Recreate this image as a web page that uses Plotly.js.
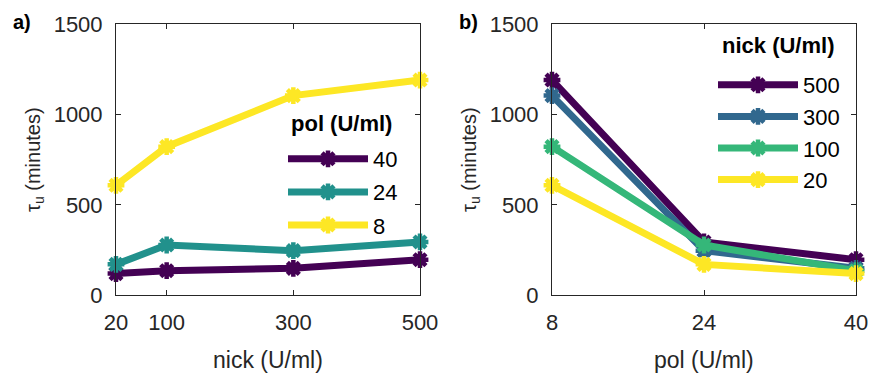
<!DOCTYPE html>
<html>
<head>
<meta charset="utf-8">
<script src="https://cdn.plot.ly/plotly-3.0.1.min.js"></script>
<style>html,body{margin:0;padding:0;background:#fff;}#chart{width:871px;height:374px;}</style>
</head>
<body>
<div id="chart"></div>
<script>
// Data
const nick = [20, 100, 300, 500];            // U/ml
const pol = [8, 24, 40];                     // U/ml
const tauPol40 = [120, 136, 149, 197];       // minutes, vs nick
const tauPol24 = [171, 278, 247, 295];
const tauPol8  = [608, 822, 1104, 1190];
const polLabels = ['40', '24', '8'];
const nickLabels = ['500', '300', '100', '20'];
const colA = ['#440154', '#21918c', '#fde725'];
const colB = ['#440154', '#31688e', '#35b779', '#fde725'];

const seriesA = [tauPol40, tauPol24, tauPol8];
// panel b: tau vs pol for each nick, built from the same table
function byNick(i) { return [tauPol8[i], tauPol24[i], tauPol40[i]]; }
const seriesB = [byNick(3), byNick(2), byNick(1), byNick(0)];

const font = 'Liberation Sans, Arial, Helvetica, sans-serif';
const mk = c => ({symbol: 'asterisk-open', size: 14, color: c, line: {color: c, width: 4.5}});
const traces = [];
seriesA.forEach((ys, k) => {
  traces.push({
    x: nick, y: ys, type: 'scatter', mode: 'lines+markers', name: polLabels[k],
    xaxis: 'x', yaxis: 'y', legend: 'legend', legendgroup: 'a' + k, cliponaxis: false,
    line: {color: colA[k], width: 7}, marker: mk(colA[k])
  });
});
seriesB.forEach((ys, k) => {
  traces.push({
    x: pol, y: ys, type: 'scatter', mode: 'lines+markers', name: nickLabels[k],
    xaxis: 'x2', yaxis: 'y2', legend: 'legend2', legendgroup: 'b' + k, cliponaxis: false,
    line: {color: colB[k], width: 7}, marker: mk(colB[k])
  });
});

const axBase = {
  ticks: 'inside', ticklen: 5, tickcolor: '#262626', mirror: 'ticks', showline: true,
  linecolor: '#262626', linewidth: 1, showgrid: false, zeroline: false,
  tickfont: {family: font, size: 22, color: '#262626'}, automargin: false, fixedrange: true
};
const yDom = [(374 - 295.3) / 374, (374 - 24) / 374];
const ann = (text, x, y, size, extra) => Object.assign({
  text: text, x: x / 871, y: 1 - y / 374, xref: 'paper', yref: 'paper', showarrow: false,
  xanchor: 'center', yanchor: 'middle', font: {family: font, size: size, color: '#262626'}
}, extra || {});
const layout = {
  width: 871, height: 374, margin: {l: 0, r: 0, t: 0, b: 0},
  paper_bgcolor: '#fff', plot_bgcolor: '#fff', font: {family: font, color: '#000'},
  showlegend: true,
  xaxis: Object.assign({}, axBase, {domain: [116 / 871, 420 / 871], range: [20, 500], tickvals: nick, ticktext: nick.map(String), anchor: 'y', ticklabelstandoff: 7}),
  yaxis: Object.assign({}, axBase, {domain: yDom, range: [0, 1500], tickvals: [0, 500, 1000, 1500], anchor: 'x', ticklabelstandoff: 8}),
  xaxis2: Object.assign({}, axBase, {domain: [552 / 871, 856 / 871], range: [8, 40], tickvals: pol, ticktext: pol.map(String), anchor: 'y2', ticklabelstandoff: 7}),
  yaxis2: Object.assign({}, axBase, {domain: yDom, range: [0, 1500], tickvals: [0, 500, 1000, 1500], anchor: 'x2', ticklabelstandoff: 8}),
  legend: {
    x: 283 / 871, y: 1 - 138 / 374, xanchor: 'left', yanchor: 'top', bgcolor: 'rgba(0,0,0,0)',
    itemwidth: 80, tracegroupgap: 1.5, font: {family: font, size: 22, color: '#000'}
  },
  legend2: {
    x: 713 / 871, y: 1 - 64 / 374, xanchor: 'left', yanchor: 'top', bgcolor: 'rgba(0,0,0,0)',
    itemwidth: 80, tracegroupgap: 0, font: {family: font, size: 22, color: '#000'}
  },
  annotations: [
    ann('<b>a)</b>', 22, 22, 20, {font: {family: font, size: 20, color: '#000'}}),
    ann('<b>b)</b>', 468, 22, 20, {font: {family: font, size: 20, color: '#000'}}),
    ann('<b>pol (U/ml)</b>', 289, 123, 22, {xanchor: 'left', font: {family: font, size: 22, color: '#000'}}),
    ann('<b>nick (U/ml)</b>', 720, 45, 22, {xanchor: 'left', font: {family: font, size: 22, color: '#000'}}),
    ann('nick (U/ml)', 268, 360, 23),
    ann('pol (U/ml)', 704, 360, 23),
    ann('τ<sub>u</sub> (minutes)', 35, 160, 20, {textangle: -90}),
    ann('τ<sub>u</sub> (minutes)', 471, 160, 20, {textangle: -90})
  ]
};
Plotly.newPlot('chart', traces, layout, {staticPlot: true, displayModeBar: false});
</script>
</body>
</html>
